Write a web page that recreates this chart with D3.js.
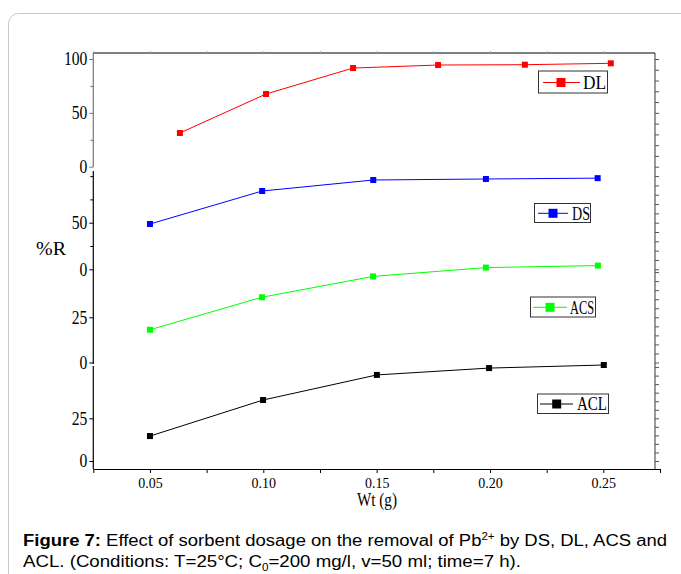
<!DOCTYPE html>
<html><head><meta charset="utf-8">
<script src="https://cdn.jsdelivr.net/npm/d3@7/dist/d3.min.js"></script>
<style>
html,body{margin:0;padding:0;background:#fff;}
svg{display:block;}
</style></head>
<body>
<svg id="chart" width="681" height="574"></svg>
<script>
// ---- data ----
const xTickValues = [0.025,0.05,0.075,0.10,0.125,0.15,0.175,0.20,0.225,0.25,0.275];
const xLabelValues = [0.05,0.10,0.15,0.20,0.25];

const dlWt  = [0.0632,0.1012,0.1396,0.1771,0.2154,0.2533];
const dlR   = [31.3,67.5,91.6,94.4,94.7,96.0];
const dsWt  = [0.05,0.0995,0.1485,0.1982,0.2475];
const dsR   = [48.6,84.0,95.8,96.9,97.8];
const acsWt = [0.05,0.0994,0.1484,0.1982,0.2476];
const acsR  = [18.1,36.1,47.6,52.5,53.6];
const aclWt = [0.05,0.0999,0.1501,0.1996,0.2502];
const aclR  = [14.6,35.7,50.4,54.4,56.2];

const seriesNames = ["DL","DS","ACS","ACL"];
const seriesColors = ["#ff0000","#0000ff","#00ff00","#000000"];

const dlTicks = [100,50,0],  dlMinor = [75,25];
const dsTicks = [50,0],      dsMinor = [100,75,25];
const acsTicks = [25,0],     acsMinor = [];
const aclTicks = [25,0],     aclMinor = [];

// ---- layout ----
const SERIF = '"Liberation Serif","Times New Roman",serif';
const SANS = '"Liberation Sans",Arial,sans-serif';
const svg = d3.select("#chart");
const pLeft = 93.3, pRight = 655, pTop = 53, pBottom = 469;

// card border
svg.append("rect").attr("x",8.5).attr("y",13.5).attr("width",720).attr("height",620)
  .attr("rx",10).attr("fill","none").attr("stroke","#c8c8c8").attr("stroke-width",1);

const x = d3.scaleLinear().domain([0.025,0.275]).range([pLeft,660]);

const panels = [
  {name:"DL",  wt:dlWt,  r:dlR,  ticks:dlTicks,  minor:dlMinor,  dom:[0,100], rng:[166.7,59],   ext:[pTop,167],  rStep:10, axisColor:"#777"},
  {name:"DS",  wt:dsWt,  r:dsR,  ticks:dsTicks,  minor:dsMinor,  dom:[0,50],  rng:[269.3,222.7], ext:[171,270], rStep:10, axisColor:"#000"},
  {name:"ACS", wt:acsWt, r:acsR, ticks:acsTicks, minor:acsMinor, dom:[0,25],  rng:[362.5,317.3], ext:[270,364], rStep:5, axisColor:"#000"},
  {name:"ACL", wt:aclWt, r:aclR, ticks:aclTicks, minor:aclMinor, dom:[0,25],  rng:[461,418.3],   ext:[366,pBottom], rStep:5, axisColor:"#000"}
];
const legendPos = [
  {bx:538.5,by:71,bw:69,bh:22, lx1:543,lx2:580,mx:561,my:82.5,tx:583,tl:23},
  {bx:534.5,by:203.5,bw:56,bh:19, lx1:538,lx2:568,mx:553,my:213.3,tx:572,tl:18},
  {bx:530.5,by:297,bw:65,bh:20, lx1:533,lx2:567,mx:550,my:307.3,tx:570,tl:24},
  {bx:537.5,by:394,bw:71,bh:19.5, lx1:540,lx2:573,mx:556.7,my:404,tx:577,tl:30}
];

panels.forEach((p,i)=>{
  const y = d3.scaleLinear().domain(p.dom).range(p.rng);
  const color = seriesColors[i];
  // left axis segment
  svg.append("line").attr("x1",pLeft).attr("x2",pLeft).attr("y1",p.ext[0]).attr("y2",p.ext[1])
    .attr("stroke",p.axisColor).attr("stroke-width",1.2);
  const gL = svg.append("g").attr("transform",`translate(${pLeft},0)`)
    .call(d3.axisLeft(y).tickValues(p.ticks).tickSize(4).tickPadding(2).tickFormat(d3.format("d")));
  gL.select(".domain").remove();
  gL.attr("font-family",null).attr("font-size",null);
  gL.selectAll("line").attr("stroke",p.axisColor);
  gL.selectAll("text").style("font-family",SERIF).style("font-size","18px").attr("fill","#000")
    .attr("textLength",d=>String(d).length*7.8).attr("lengthAdjust","spacingAndGlyphs");
  if(p.minor.length){
    const gm = svg.append("g").attr("transform",`translate(${pLeft},0)`)
      .call(d3.axisLeft(y).tickValues(p.minor).tickSize(3).tickFormat(""));
    gm.select(".domain").remove();
    gm.selectAll("line").attr("stroke",p.axisColor);
  }
  // right axis ticks
  const y0 = y.invert(p.ext[1]), y1 = y.invert(p.ext[0]);
  const rt = d3.range(Math.ceil(y0/p.rStep)*p.rStep, y1, p.rStep);
  const gR = svg.append("g").attr("transform",`translate(${pRight},0)`)
    .call(d3.axisRight(y).tickValues(rt).tickSize(4).tickFormat(""));
  gR.select(".domain").remove();
  gR.selectAll("line").attr("stroke","#555");

  // series
  const pts = p.wt.map((w,k)=>[w,p.r[k]]);
  svg.append("path").datum(pts)
    .attr("d",d3.line().x(d=>x(d[0])).y(d=>y(d[1])))
    .attr("fill","none").attr("stroke",color).attr("stroke-width",1);
  svg.selectAll(null).data(pts).enter().append("rect")
    .attr("x",d=>x(d[0])-3).attr("y",d=>y(d[1])-3).attr("width",6).attr("height",6)
    .attr("fill",color);

  // legend
  const L = legendPos[i];
  svg.append("rect").attr("x",L.bx).attr("y",L.by).attr("width",L.bw).attr("height",L.bh)
    .attr("fill","#fff").attr("stroke","#333").attr("stroke-width",1);
  svg.append("line").attr("x1",L.lx1).attr("x2",L.lx2).attr("y1",L.my).attr("y2",L.my)
    .attr("stroke",color).attr("stroke-width",1);
  svg.append("rect").attr("x",L.mx-4.5).attr("y",L.my-4.5).attr("width",9).attr("height",9).attr("fill",color);
  svg.append("text").attr("x",L.tx).attr("y",L.my).attr("dy","0.35em")
    .style("font-family",SERIF).style("font-size","18px")
    .attr("textLength",L.tl).attr("lengthAdjust","spacingAndGlyphs")
    .text(seriesNames[i]);
});

// right axis line
svg.append("line").attr("x1",pRight).attr("x2",pRight).attr("y1",pTop).attr("y2",pBottom)
  .attr("stroke","#555").attr("stroke-width",1.2);
// top frame line with small upward ticks
svg.append("line").attr("x1",pLeft).attr("x2",pRight).attr("y1",pTop).attr("y2",pTop)
  .attr("stroke","#000").attr("stroke-width",1.2);
const gT = svg.append("g").attr("transform",`translate(0,${pTop})`)
  .call(d3.axisTop(x).tickValues(xTickValues.filter(v=>x(v)<pRight)).tickSize(2).tickFormat(""));
gT.select(".domain").remove();
gT.selectAll("line").attr("stroke","#aaa");

// bottom axis
const gB = svg.append("g").attr("transform",`translate(0,${pBottom})`)
  .call(d3.axisBottom(x).tickValues(xTickValues).tickSize(4).tickSizeOuter(0).tickPadding(5)
    .tickFormat(d=> xLabelValues.some(v=>Math.abs(v-d)<1e-9) ? d3.format(".2f")(d) : ""));
gB.attr("font-family",null).attr("font-size",null);
gB.select(".domain").attr("stroke","#000").attr("stroke-width",1.2);
gB.selectAll("text").style("font-family",SERIF).style("font-size","14px").attr("fill","#000");

// axis titles
svg.append("text").attr("x",377).attr("y",506).attr("text-anchor","middle")
  .style("font-family",SERIF).style("font-size","18px")
  .attr("textLength",40).attr("lengthAdjust","spacingAndGlyphs").text("Wt (g)");
svg.append("text").attr("x",36).attr("y",255)
  .style("font-family",SERIF).style("font-size","19px")
  .attr("textLength",30).attr("lengthAdjust","spacingAndGlyphs").text("%R");

// caption
const c1 = svg.append("text").attr("x",23).attr("y",546).style("font-family",SANS)
  .style("font-size","16px").attr("fill","#000").attr("textLength",644).attr("lengthAdjust","spacingAndGlyphs");
c1.append("tspan").attr("font-weight","bold").text("Figure 7:");
c1.append("tspan").text(" Effect of sorbent dosage on the removal of Pb");
c1.append("tspan").style("font-size","10px").attr("dy",-6).text("2+");
c1.append("tspan").attr("dy",6).text(" by DS, DL, ACS and");
const c2 = svg.append("text").attr("x",23).attr("y",567).style("font-family",SANS)
  .style("font-size","16px").attr("fill","#000").attr("textLength",498).attr("lengthAdjust","spacingAndGlyphs");
c2.append("tspan").text("ACL. (Conditions: T=25°C; C");
c2.append("tspan").style("font-size","10px").attr("dy",4).text("0");
c2.append("tspan").attr("dy",-4).text("=200 mg/l, v=50 ml; time=7 h).");
</script>
</body></html>
